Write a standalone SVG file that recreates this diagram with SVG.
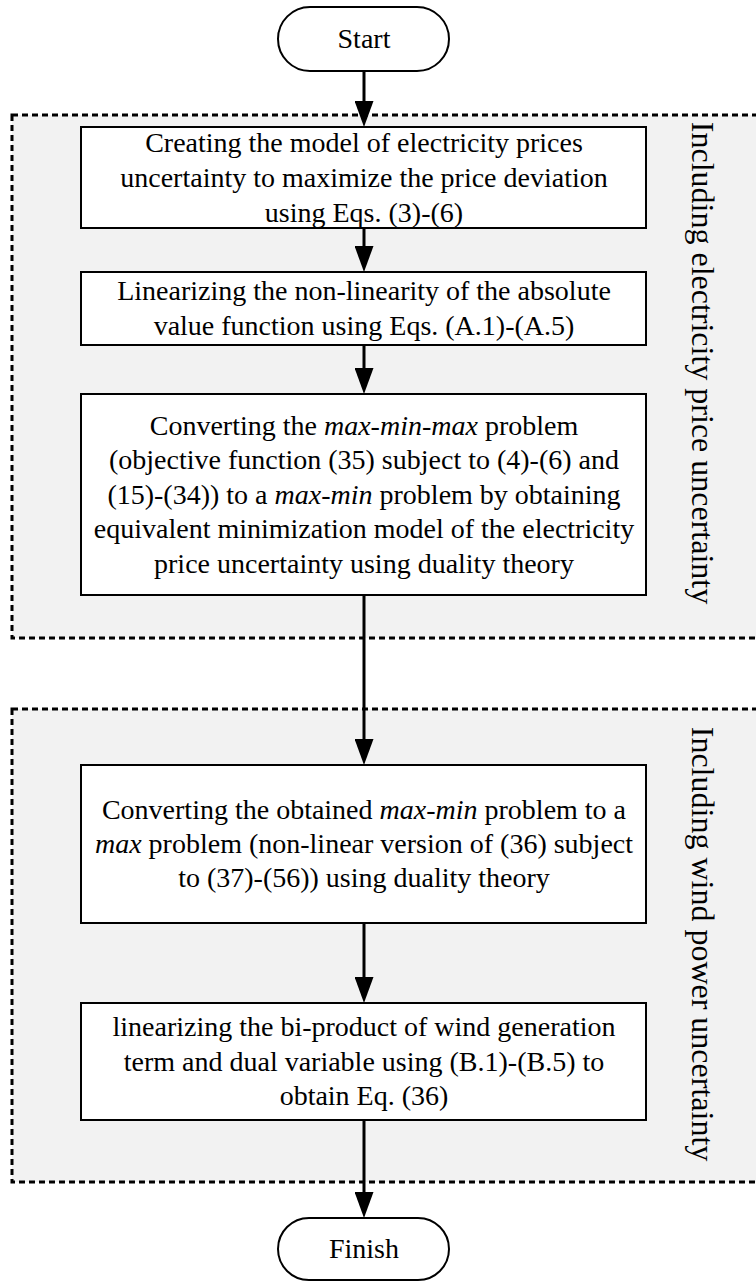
<svg xmlns="http://www.w3.org/2000/svg" width="756" height="1282" viewBox="0 0 756 1282">
<style>
.bg{fill:#ffffff}
.region{fill:#f2f2f2;stroke:#000;stroke-width:3;stroke-dasharray:6 4}
.box{fill:#fff;stroke:#000;stroke-width:2}
.term{fill:#fff;stroke:#000;stroke-width:2}
.t{font-family:"Liberation Serif","Times New Roman",serif;font-size:28px;fill:#000;text-anchor:middle}
.vt{font-family:"Liberation Serif","Times New Roman",serif;font-size:32px;fill:#000;text-anchor:middle}
.i{font-style:italic}
.conn{stroke:#000;stroke-width:3;fill:none;marker-end:url(#ah)}
</style>
<defs>
<marker id="ah" markerUnits="userSpaceOnUse" markerWidth="26" markerHeight="19" refX="16" refY="9.5" orient="auto" viewBox="0 0 26 19">
<path d="M0,0 L26,9.5 L0,19 Z" fill="#000"/>
</marker>
</defs>
<rect class="bg" x="0" y="0" width="756" height="1282"/>
<g id="region-price">
<rect class="region" x="12" y="115" width="760" height="523"/>
<text class="vt" transform="translate(692,363) rotate(90)">Including electricity price uncertainty</text>
</g>
<g id="region-wind">
<rect class="region" x="12" y="709" width="760" height="473"/>
<text class="vt" transform="translate(692,944) rotate(90)">Including wind power uncertainty</text>
</g>
<g id="connectors">
<line class="conn" x1="364" y1="71" x2="364" y2="117"/>
<line class="conn" x1="364" y1="228" x2="364" y2="262"/>
<line class="conn" x1="364" y1="345" x2="364" y2="384"/>
<line class="conn" x1="364" y1="595" x2="364" y2="755"/>
<line class="conn" x1="364" y1="923" x2="364" y2="993"/>
<line class="conn" x1="364" y1="1120" x2="364" y2="1208"/>
</g>
<g id="start">
<rect class="term" x="278" y="7" width="171" height="64" rx="32" ry="32"/>
<text class="t" x="364" y="48">Start</text>
</g>
<g id="box1">
<rect class="box" x="81" y="127" width="565" height="101"/>
<text class="t" x="364" y="152">Creating the model of electricity prices</text>
<text class="t" x="364" y="187">uncertainty to maximize the price deviation</text>
<text class="t" x="364" y="222">using Eqs. (3)-(6)</text>
</g>
<g id="box2">
<rect class="box" x="81" y="272" width="565" height="73"/>
<text class="t" x="364" y="300">Linearizing the non-linearity of the absolute</text>
<text class="t" x="364" y="335">value function using Eqs. (A.1)-(A.5)</text>
</g>
<g id="box3">
<rect class="box" x="81" y="394" width="565" height="201"/>
<text class="t" x="364" y="434.5">Converting the <tspan class="i">max-min-max</tspan> problem</text>
<text class="t" x="364" y="469">(objective function (35) subject to (4)-(6) and</text>
<text class="t" x="364" y="503.5">(15)-(34)) to a <tspan class="i">max-min</tspan> problem by obtaining</text>
<text class="t" x="364" y="538">equivalent minimization model of the electricity</text>
<text class="t" x="364" y="572.5">price uncertainty using duality theory</text>
</g>
<g id="box4">
<rect class="box" x="81" y="765" width="565" height="158"/>
<text class="t" x="364" y="819">Converting the obtained <tspan class="i">max-min</tspan> problem to a</text>
<text class="t" x="364" y="853"><tspan class="i">max</tspan> problem (non-linear version of (36) subject</text>
<text class="t" x="364" y="887">to (37)-(56)) using duality theory</text>
</g>
<g id="box5">
<rect class="box" x="81" y="1003" width="565" height="117"/>
<text class="t" x="364" y="1036">linearizing the bi-product of wind generation</text>
<text class="t" x="364" y="1070.5">term and dual variable using (B.1)-(B.5) to</text>
<text class="t" x="364" y="1105">obtain Eq. (36)</text>
</g>
<g id="finish">
<rect class="term" x="278" y="1218" width="171" height="62" rx="31" ry="31"/>
<text class="t" x="364" y="1258">Finish</text>
</g>
</svg>
